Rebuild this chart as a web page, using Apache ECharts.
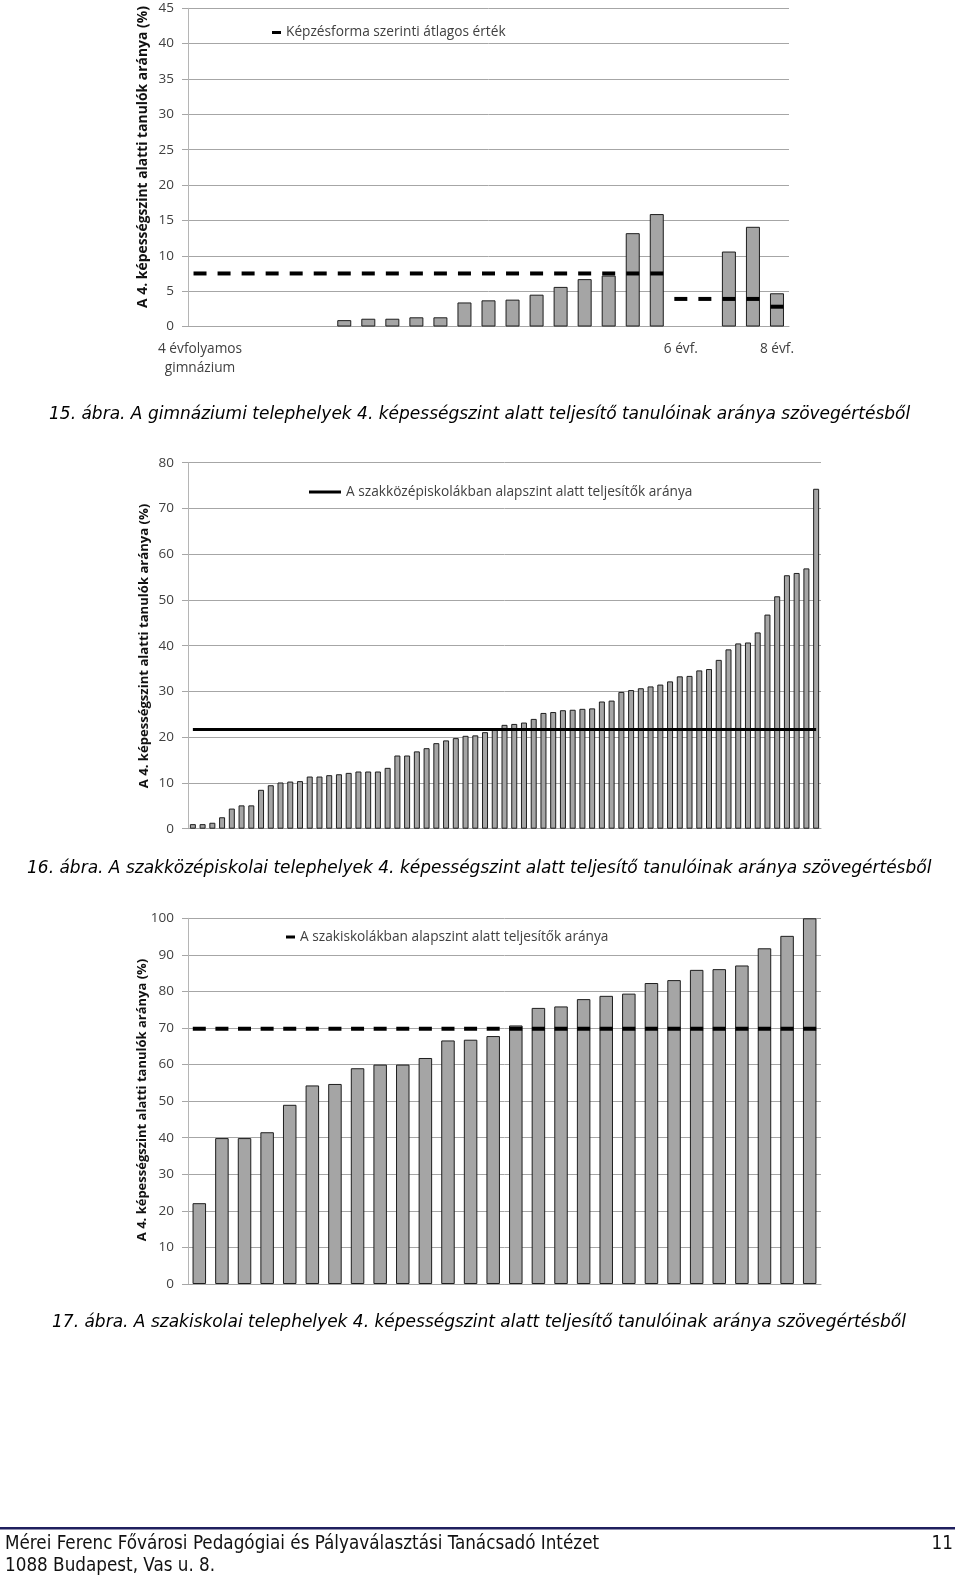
<!DOCTYPE html>
<html>
<head>
<meta charset="utf-8">
<script src="https://cdn.jsdelivr.net/npm/echarts@6/dist/echarts.min.js"></script>
<style>
html,body{margin:0;padding:0;background:#fff;}
#c{width:960px;height:1576px;}
</style>
</head>
<body>
<div id="c"></div>
<script>
// ---------- Chart 1 (15. ábra) ----------
const cats1 = ['4 évfolyamos\ngimnázium','','','','','','','','','','','','','','','','','','','','6 évf.','','','','8 évf.'];
const vals1 = [null,null,null,null,null,null,0.9,1.1,1.1,1.3,1.3,3.4,3.7,3.8,4.5,5.6,6.7,7.2,13.2,15.9,null,null,10.6,14.1,4.7];
const avg1  = [7.5,7.5,7.5,7.5,7.5,7.5,7.5,7.5,7.5,7.5,7.5,7.5,7.5,7.5,7.5,7.5,7.5,7.5,7.5,7.5,3.9,3.9,3.9,3.9,2.8];
const ticks1 = {min:0, max:45, interval:5};

// ---------- Chart 2 (16. ábra) ----------
const vals2 = [1.0,1.0,1.3,2.5,4.4,5.1,5.1,8.5,9.5,10.1,
               10.3,10.4,11.4,11.4,11.7,11.9,12.2,12.5,12.5,12.5,
               13.3,16.0,16.0,16.9,17.6,18.7,19.3,19.8,20.3,20.4,
               21.1,21.6,22.7,22.9,23.2,24.0,25.3,25.5,25.9,26.0,
               26.2,26.3,27.8,28.0,29.9,30.3,30.7,31.1,31.5,32.2,
               33.3,33.4,34.6,34.9,36.9,39.2,40.5,40.7,42.9,46.8,
               50.8,55.4,55.9,56.9,74.3];
const avg2  = [21.7,21.7,21.7,21.7,21.7,21.7,21.7,21.7,21.7,21.7,
               21.7,21.7,21.7,21.7,21.7,21.7,21.7,21.7,21.7,21.7,
               21.7,21.7,21.7,21.7,21.7,21.7,21.7,21.7,21.7,21.7,
               21.7,21.7,21.7,21.7,21.7,21.7,21.7,21.7,21.7,21.7,
               21.7,21.7,21.7,21.7,21.7,21.7,21.7,21.7,21.7,21.7,
               21.7,21.7,21.7,21.7,21.7,21.7,21.7,21.7,21.7,21.7,
               21.7,21.7,21.7,21.7,21.7];
const cats2 = vals2.map((v,i)=>String(i+1));
const ticks2 = {min:0, max:80, interval:10};

// ---------- Chart 3 (17. ábra) ----------
const vals3 = [22.1,39.9,39.9,41.5,49.0,54.3,54.7,59.0,60.0,60.0,
               61.8,66.6,66.8,67.8,70.7,75.5,75.9,77.9,78.8,79.4,
               82.3,83.1,85.9,86.1,87.1,91.8,95.2,100];
const avg3  = [69.8,69.8,69.8,69.8,69.8,69.8,69.8,69.8,69.8,69.8,
               69.8,69.8,69.8,69.8,69.8,69.8,69.8,69.8,69.8,69.8,
               69.8,69.8,69.8,69.8,69.8,69.8,69.8,69.8];
const cats3 = vals3.map((v,i)=>String(i+1));
const ticks3 = {min:0, max:100, interval:10};

const legend1 = 'Képzésforma szerinti átlagos érték';
const legend2 = 'A szakközépiskolákban alapszint alatt teljesítők aránya';
const legend3 = 'A szakiskolákban alapszint alatt teljesítők aránya';
const yName = 'A 4. képességszint alatti tanulók aránya (%)';
const captions = [
  '15. ábra. A gimnáziumi telephelyek 4. képességszint alatt teljesítő tanulóinak aránya szövegértésből',
  '16. ábra. A szakközépiskolai telephelyek 4. képességszint alatt teljesítő tanulóinak aránya szövegértésből',
  '17. ábra. A szakiskolai telephelyek 4. képességszint alatt teljesítő tanulóinak aránya szövegértésből'
];
const footer1 = 'Mérei Ferenc Fővárosi Pedagógiai és Pályaválasztási Tanácsadó Intézet';
const footer2 = '1088 Budapest, Vas u. 8.';
const pageNo = '11';

const FONT = '"Open Sans", "Noto Sans", sans-serif';
const CAPFONT = 'italic 17px "DejaVu Sans", Verdana, sans-serif';
const FOOTFONT = '18.7px "DejaVu Sans Condensed", "DejaVu Sans", sans-serif';
const gridColor = '#a6a6a6';
const labelColor = '#404040';
const barStyle = {color:'#a5a5a5', borderColor:'#1e1e1e', borderWidth:1};
const legendText = {color:labelColor, fontFamily:FONT, fontSize:13.7};

function yAxis(idx, t){
  return {
    type:'value', gridIndex:idx, min:t.min, max:t.max, interval:t.interval,
    axisLine:{show:true, lineStyle:{color:'#b5b5b5', width:1}},
    axisTick:{show:true, length:6, lineStyle:{color:gridColor}},
    splitLine:{show:true, lineStyle:{color:gridColor, width:1}},
    axisLabel:{color:labelColor, fontFamily:FONT, fontSize:13.5, margin:14}
  };
}
function xAxis(idx, cats, showLabels){
  return {
    type:'category', gridIndex:idx, data:cats, boundaryGap:true,
    axisLine:{show:true, lineStyle:{color:gridColor}},
    axisTick:{show:false},
    axisLabel:showLabels ? {show:true, interval:0, color:labelColor, fontFamily:FONT, fontSize:13.7, lineHeight:19, margin:13} : {show:false}
  };
}

const chart = echarts.init(document.getElementById('c'), null, {renderer:'canvas'});
const option = {
  animation:false,
  backgroundColor:'#ffffff',
  grid:[
    {left:188, width:601, top:8.3, height:318.2},
    {left:188, width:633, top:462.7, height:366},
    {left:188, width:633, top:918.3, height:365.7}
  ],
  xAxis:[xAxis(0,cats1,true), xAxis(1,cats2,false), xAxis(2,cats3,false)],
  yAxis:[yAxis(0,ticks1), yAxis(1,ticks2), yAxis(2,ticks3)],
  legend:[
    {data:[legend1], left:272, top:25.5, padding:0, icon:'rect', itemWidth:9, itemHeight:3, textStyle:legendText},
    {data:[legend2], left:309, top:485, padding:0, icon:'rect', itemWidth:32, itemHeight:3, textStyle:legendText},
    {data:[legend3], left:286, top:930, padding:0, icon:'rect', itemWidth:9, itemHeight:3, textStyle:legendText}
  ],
  series:[
    {name:'Telephelyek 1', type:'bar', xAxisIndex:0, yAxisIndex:0, data:vals1, barWidth:14, itemStyle:barStyle, z:2},
    {name:legend1, type:'line', xAxisIndex:0, yAxisIndex:0, data:avg1, symbol:'rect', symbolSize:[13,4],
     showSymbol:true, itemStyle:{color:'#000'}, lineStyle:{width:0, opacity:0}, z:5},
    {name:'Telephelyek 2', type:'bar', xAxisIndex:1, yAxisIndex:1, data:vals2, barWidth:6, itemStyle:barStyle, z:2},
    {name:legend2, type:'line', xAxisIndex:1, yAxisIndex:1, data:avg2, symbol:'none',
     itemStyle:{color:'#000'}, lineStyle:{color:'#000', width:3}, z:5},
    {name:'Telephelyek 3', type:'bar', xAxisIndex:2, yAxisIndex:2, data:vals3, barWidth:13.5, itemStyle:barStyle, z:2},
    {name:legend3, type:'line', xAxisIndex:2, yAxisIndex:2, data:avg3, symbol:'rect', symbolSize:[13,4],
     showSymbol:true, itemStyle:{color:'#000'}, lineStyle:{width:0, opacity:0}, z:5}
  ],
  graphic:[
    {type:'text', x:143, y:157, rotation:Math.PI/2, style:{text:yName, fill:'#111', font:'bold 13.9px '+FONT, textAlign:'center', textVerticalAlign:'middle'}},
    {type:'text', x:144, y:646, rotation:Math.PI/2, style:{text:yName, fill:'#111', font:'bold 13.1px '+FONT, textAlign:'center', textVerticalAlign:'middle'}},
    {type:'text', x:142, y:1100, rotation:Math.PI/2, style:{text:yName, fill:'#111', font:'bold 13px '+FONT, textAlign:'center', textVerticalAlign:'middle'}},
    {type:'text', x:49, y:415, style:{text:captions[0], fill:'#000', font:CAPFONT, textVerticalAlign:'middle'}},
    {type:'text', x:27, y:868.5, style:{text:captions[1], fill:'#000', font:CAPFONT, textVerticalAlign:'middle'}},
    {type:'text', x:52, y:1323, style:{text:captions[2], fill:'#000', font:CAPFONT, textVerticalAlign:'middle'}},
    {type:'rect', shape:{x:0, y:1527, width:955, height:2.5}, style:{fill:'#1f1f5e'}},
    {type:'text', x:5, y:1544.5, style:{text:footer1, fill:'#111', font:FOOTFONT, textVerticalAlign:'middle'}},
    {type:'text', x:5, y:1566.5, style:{text:footer2, fill:'#111', font:FOOTFONT, textVerticalAlign:'middle'}},
    {type:'text', x:953, y:1544.5, style:{text:pageNo, fill:'#111', font:FOOTFONT, textAlign:'right', textVerticalAlign:'middle'}}
  ]
};
chart.setOption(option);
</script>
</body>
</html>
